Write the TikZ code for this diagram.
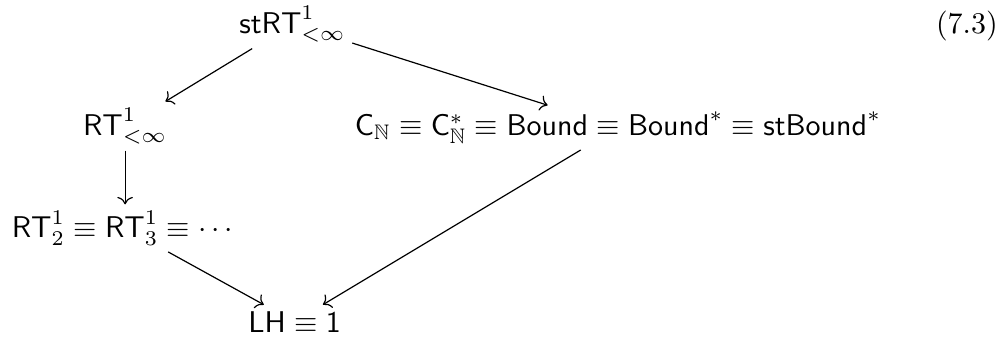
\documentclass[tikz,border=0pt]{standalone}
\usepackage{amsmath}
\usepackage{amssymb}
\usetikzlibrary{arrows.meta}

\begin{document}
\begin{tikzpicture}[
  x=1pt, y=1pt,
  cell/.style={anchor=base, inner sep=2pt},
  arr/.style={-{Computer Modern Rightarrow}, line width=0.4pt},
]
\useasboundingbox (0,0) rectangle (335,-113);

\node[cell] (strt) at (97.5,-11) {$\mathsf{stRT}^1_{<\infty}$};
\node[cell] (rtinf) at (41.7,-45) {$\mathsf{RT}^1_{<\infty}$};
\node[cell] (bound) at (206,-45) {$\mathsf{C}_{\mathbb{N}} \equiv \mathsf{C}^*_{\mathbb{N}} \equiv \mathsf{Bound} \equiv \mathsf{Bound}^* \equiv \mathsf{stBound}^*$};
\node[cell] (rtn) at (41.7,-79.3) {$\mathsf{RT}^1_2 \equiv \mathsf{RT}^1_3 \equiv \cdots$};
\node[cell] (lh) at (98.2,-110.7) {$\mathsf{LH} \equiv \mathsf{1}$};
\node[anchor=base, inner sep=0pt] (eqno) at (322.3,-11) {(7.3)};

\draw[arr] (strt) -- (rtinf);
\draw[arr] (strt) -- (bound);
\draw[arr] (rtinf) -- (rtn);
\draw[arr] (rtn) -- (lh);
\draw[arr] (bound) -- (lh);

\end{tikzpicture}
\end{document}
